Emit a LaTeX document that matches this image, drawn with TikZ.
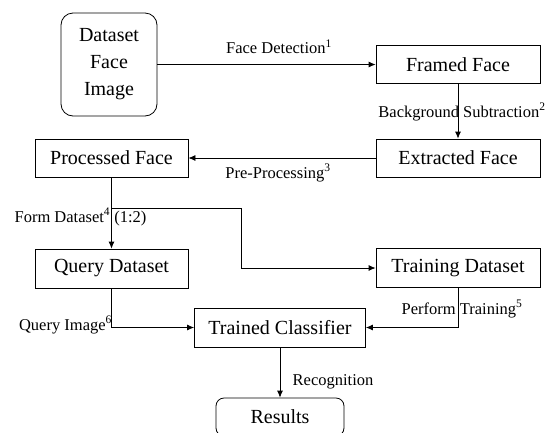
\documentclass[tikz,border=0pt]{standalone}
\usepackage{fontspec}
\setmainfont{Liberation Serif}
\usetikzlibrary{arrows.meta}
\tikzset{>={Latex[length=7pt,width=6pt]}}
\tikzset{blk/.style={draw, inner sep=0pt, minimum height=39pt, font=\fontsize{20}{27}\selectfont}}
\tikzset{rblk/.style={blk, rounded corners=12pt, align=center}}
\tikzset{lbl/.style={inner sep=0pt, font=\fontsize{16.5}{18}\selectfont}}

\begin{document}
\begin{tikzpicture}[x=1pt,y=-1pt,line width=0.8pt]
        \useasboundingbox (0,0) rectangle (549,432);

        \node[rblk, minimum width=96pt, minimum height=103pt] (data) at (109,64.5) {Dataset\\Face\\Image};
        \node[blk, minimum width=164pt, minimum height=38pt] (framed) at (458,64.5) {Framed Face};
        \node[blk, minimum width=164pt, minimum height=38pt] (extracted) at (458,158) {Extracted Face};
        \node[blk, minimum width=153pt, minimum height=38pt] (processed) at (111.5,158) {Processed Face};
        \node[blk, minimum width=153pt] (query) at (111.5,268.5) {Query Dataset};
        \node[blk, minimum width=164pt] (training) at (458,268) {Training Dataset};
        \node[blk, minimum width=171pt] (classifier) at (280,327.5) {Trained Classifier};
        \node[rblk, rounded corners=8pt, minimum width=128pt, minimum height=38pt] (results) at (280,417) {Results};

        \node[lbl] (l1) at (279,47) {Face Detection\textsuperscript{1}};
        \node[lbl] (l2) at (462,112) {Background Subtraction\textsuperscript{2}};
        \node[lbl] (l3) at (278,173) {Pre-Processing\textsuperscript{3}};
        \node[lbl] (l4) at (80.5,217) {Form Dataset\textsuperscript{4} (1:2)};
        \node[lbl] (l5) at (462,309) {Perform Training\textsuperscript{5}};
        \node[lbl] (l6) at (65.5,325) {Query Image\textsuperscript{6}};
        \node[lbl] (l7) at (333,382) {Recognition};

        \coordinate (split) at (111.5,208);
        \coordinate (bend) at (241,208);

        \draw [->] (data) -- (framed);
        \draw [->] (framed) -- (extracted);
        \draw [->] (extracted) -- (processed);
        \draw [->] (processed) -- (query);
        \draw [->] (split) -- (bend) |- (training.west);
        \draw [->] (query.south) |- (classifier.west);
        \draw [->] (training.south) |- (classifier.east);
        \draw [->] (classifier) -- (results);
    \end{tikzpicture}
\end{document}
